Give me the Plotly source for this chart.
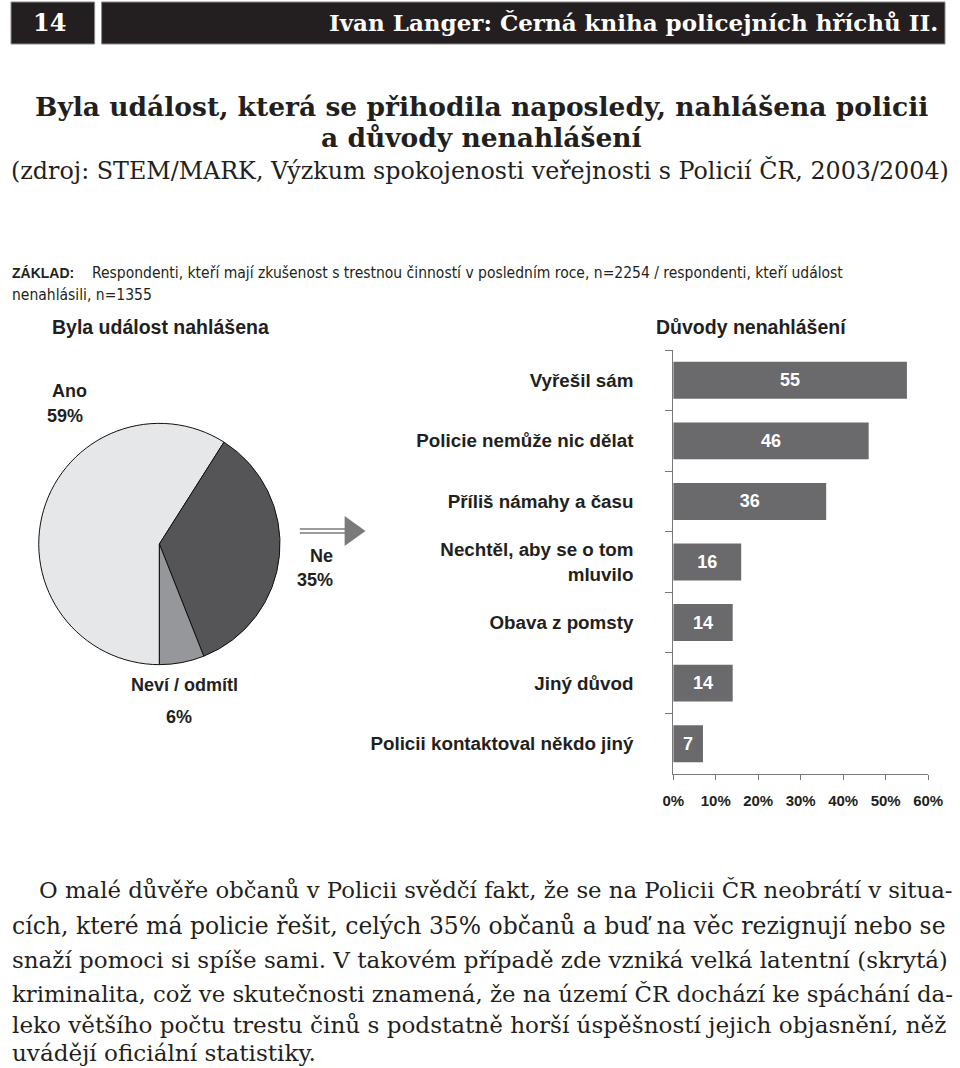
import plotly.graph_objects as go

W, H = 960, 1068

# ---- data ----
pie_labels = ["Ano", "Ne", "Neví / odmítl"]
pie_values = [59, 35, 6]
pie_colors = ["#e6e7e9", "#555558", "#96979b"]

reasons = ["Vyřešil sám", "Policie nemůže nic dělat", "Příliš námahy a času",
           "Nechtěl, aby se o tom<br>mluvilo", "Obava z pomsty", "Jiný důvod",
           "Policii kontaktoval někdo jiný"]
reason_values = [55, 46, 36, 16, 14, 14, 7]
x_ticks = [0, 10, 20, 30, 40, 50, 60]
x_tick_labels = ["0%", "10%", "20%", "30%", "40%", "50%", "60%"]

header_left = "14"
header_right = "Ivan Langer: Černá kniha policejních hříchů II."
title_lines = ["Byla událost, která se přihodila naposledy, nahlášena policii",
               "a důvody nenahlášení"]
subtitle = "(zdroj: STEM/MARK, Výzkum spokojenosti veřejnosti s Policií ČR, 2003/2004)"
base_label = "ZÁKLAD:"
base_line1 = "Respondenti, kteří mají zkušenost s trestnou činností v posledním roce, n=2254 / respondenti, kteří událost"
base_line2 = "nenahlásili, n=1355"
left_heading = "Byla událost nahlášena"
right_heading = "Důvody nenahlášení"
body_lines = [
    "O malé důvěře občanů v Policii svědčí fakt, že se na Policii ČR neobrátí v situa-",
    "cích, které má policie řešit, celých 35% občanů a buď na věc rezignují nebo se",
    "snaží pomoci si spíše sami. V takovém případě zde vzniká velká latentní (skrytá)",
    "kriminalita, což ve skutečnosti znamená, že na území ČR dochází ke spáchání da-",
    "leko většího počtu trestu činů s podstatně horší úspěšností jejich objasnění, něž",
    "uvádějí oficiální statistiky.",
]


# horizontal placement helper (page-pixel target -> paper fraction)
def px(x):
    v = ((x - 8) / 0.977) / W
    return min(max(v, 0.0), 1.0)


def py(y):
    return 1 - y / H


SANS = "Liberation Sans, Arial, sans-serif"
NARROW = "Liberation Sans Narrow, DejaVu Sans Condensed, Arial Narrow, sans-serif"
SERIF = "DejaVu Serif, serif"
TXT = "#231f20"
AX = "#7a7a7a"

fig = go.Figure()

# pie
cx, cy, r = 157, 544, 124
fig.add_trace(go.Pie(
    labels=pie_labels, values=pie_values, sort=False, direction="clockwise",
    rotation=180, marker=dict(colors=pie_colors, line=dict(color="#111111", width=1)),
    textinfo="none", hoverinfo="label+percent", showlegend=False,
    domain=dict(x=[px(cx) - r / W, px(cx) + r / W], y=[py(cy + r), py(cy - r)]),
))

# bars
fig.add_trace(go.Bar(
    x=reason_values, y=reasons, orientation="h", width=0.61,
    marker=dict(color="#6a6a6c", line=dict(width=0)),
    text=[str(v) for v in reason_values], textposition="inside",
    insidetextanchor="middle", textangle=0,
    textfont=dict(family=SANS, size=18, color="white", weight="bold"),
    showlegend=False, hoverinfo="x+y",
))

fig.update_layout(
    width=W, height=H, margin=dict(l=0, r=0, t=0, b=0),
    paper_bgcolor="white", plot_bgcolor="white",
    uniformtext=dict(minsize=18, mode="show"),
    xaxis=dict(domain=[px(673), px(929)], range=[0, 60], tickmode="array",
               tickvals=x_ticks, ticktext=x_tick_labels,
               showgrid=False, zeroline=False, showline=True,
               linecolor=AX, linewidth=1, ticks="outside", ticklen=5, tickcolor=AX,
               tickfont=dict(family=SANS, size=15, color=TXT, weight="bold"),
               ticklabelstandoff=8, fixedrange=True),
    yaxis=dict(domain=[py(774), py(350)], autorange="reversed", type="category",
               showgrid=False, zeroline=False, showline=True, linecolor=AX,
               linewidth=1, ticks="outside", ticklen=7, tickcolor=AX,
               tickson="boundaries", ticklabelstandoff=35,
               tickfont=dict(family=SANS, size=18.8, color=TXT, weight="bold"),
               fixedrange=True),
)

# header boxes
fig.add_shape(type="rect", xref="paper", yref="paper", x0=px(3), x1=px(92), y0=py(44), y1=py(2),
              fillcolor="#231f20", line=dict(color="#8a8a8a", width=1))
fig.add_shape(type="rect", xref="paper", yref="paper", x0=px(99), x1=px(957), y0=py(44), y1=py(2),
              fillcolor="#231f20", line=dict(color="#8a8a8a", width=1))

# arrow
for yy in (529, 533):
    fig.add_shape(type="line", xref="paper", yref="paper", x0=px(298), x1=px(344), y0=py(yy), y1=py(yy),
                  line=dict(color=AX, width=1.5))
fig.add_shape(type="path", xref="paper", yref="paper",
              path=f"M {px(343)},{py(516)} L {px(364)},{py(531)} L {px(343)},{py(546)} Z",
              fillcolor=AX, line=dict(color=AX, width=0))


def ann(text, x, y, size, family, color=TXT, xanchor="center", weight="normal"):
    fig.add_annotation(text=text, x=px(x), y=py(y), xref="paper", yref="paper",
                       xanchor=xanchor, yanchor="middle", showarrow=False, borderpad=0,
                       font=dict(family=family, size=size, color=color, weight=weight))


ann(header_left, 47, 23, 24, SERIF, color="white", weight="bold")
ann(header_right, 940, 23, 23, SERIF, color="white", xanchor="right", weight="bold")

ann(title_lines[0], 480, 106, 26.5, SERIF, weight="bold")
ann(title_lines[1], 480, 138, 26.5, SERIF, weight="bold")
ann(subtitle, 479, 170, 23.8, SERIF)

ann(base_label, 5, 273, 14, SANS, xanchor="left", weight="bold")
ann(base_line1, 88, 273, 15.5, NARROW, xanchor="left")
ann(base_line2, 5, 295, 15.5, NARROW, xanchor="left")

ann(left_heading, 48, 327, 19.5, SANS, xanchor="left", weight="bold")
ann(right_heading, 655, 327, 19.5, SANS, xanchor="left", weight="bold")

# pie labels
pie_label_pos = [(67, 391, 62, 416, "center"), (332, 556, 332, 580, "right"), (182, 685, 177, 717, "center")]
for lab, val, (x1, y1, x2, y2, anc) in zip(pie_labels, pie_values, pie_label_pos):
    ann(lab, x1, y1, 18, SANS, xanchor=anc, weight="bold")
    ann(f"{val}%", x2, y2, 18, SANS, xanchor=anc, weight="bold")

# body text (sizes per line approximate the justified block)
body_y = [890, 926, 960, 994, 1025, 1053]
body_size = [22.8, 23.5, 23.0, 22.8, 23.1, 23.1]
for i, (line, yy, sz) in enumerate(zip(body_lines, body_y, body_size)):
    ann(line, 35 if i == 0 else 5, yy, sz, SERIF, xanchor="left")

fig.write_html("out.html")
